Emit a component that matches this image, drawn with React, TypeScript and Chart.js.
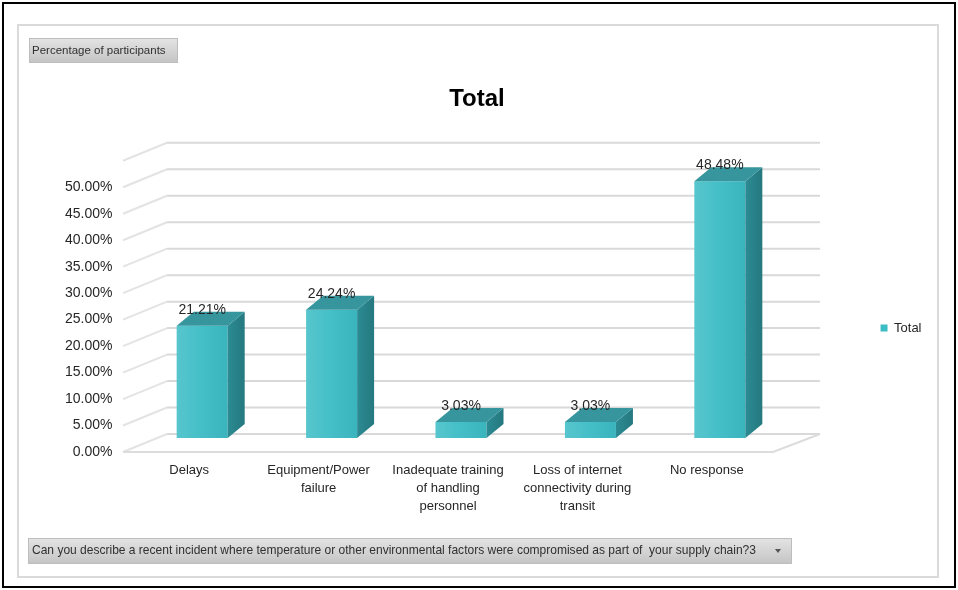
import React, { useEffect, useRef } from 'react';
import { Chart, registerables } from 'chart.js';

Chart.register(...registerables);

// ---- data ----
const categories: string[][] = [
  ['Delays'],
  ['Equipment/Power', 'failure'],
  ['Inadequate training', 'of handling', 'personnel'],
  ['Loss of internet', 'connectivity during', 'transit'],
  ['No response'],
];
const seriesName = 'Total';
const totalValues = [21.21, 24.24, 3.03, 3.03, 48.48];
const yAxisMax = 55;
const yAxisStep = 5;
const chartTitle = 'Total';
const fieldButtonLabel = 'Percentage of participants';
const filterLabel =
  'Can you describe a recent incident where temperature or other environmental factors were compromised as part of  your supply chain?3';

const FONT = '"Liberation Sans", Arial, sans-serif';

// 3D styling constants
const BAR_DX = 17;
const BAR_DY = -14;
const FRONT_X = -14.5; // left wall front edge relative to chart area left
const FRONT_Y = 14; // front plane offset relative to bar plane
const BACK_LEFT = 29.5; // back wall left relative to chart area left
const BACK_RIGHT = 35.5; // back wall right relative to chart area right
const BACK_Y = -4;
const FLOOR_FRONT_RIGHT = -11.5;

function grayBox(ctx: CanvasRenderingContext2D, x: number, y: number, w: number, h: number) {
  const g = ctx.createLinearGradient(0, y, 0, y + h);
  g.addColorStop(0, '#e4e4e4');
  g.addColorStop(1, '#c4c4c4');
  ctx.fillStyle = g;
  ctx.fillRect(x, y, w, h);
  ctx.strokeStyle = '#bdbdbd';
  ctx.lineWidth = 1;
  ctx.strokeRect(x + 0.5, y + 0.5, w - 1, h - 1);
}

const decorPlugin = {
  id: 'decor',
  beforeDraw(chart: any) {
    const ctx: CanvasRenderingContext2D = chart.ctx;
    ctx.save();
    ctx.fillStyle = '#ffffff';
    ctx.fillRect(0, 0, chart.width, chart.height);
    // inner frame
    ctx.strokeStyle = '#dadada';
    ctx.lineWidth = 2;
    ctx.strokeRect(18, 25, 920, 552);
    // outer black border
    ctx.strokeStyle = '#000000';
    ctx.lineWidth = 2;
    ctx.strokeRect(3, 3, 952, 584);

    // field button
    grayBox(ctx, 29, 38, 149, 25);
    ctx.fillStyle = '#303030';
    ctx.font = `11.5px ${FONT}`;
    ctx.textBaseline = 'middle';
    ctx.textAlign = 'left';
    ctx.fillText(fieldButtonLabel, 32, 51);

    // filter bar
    grayBox(ctx, 28, 538, 764, 26);
    ctx.font = `11px ${FONT}`;
    const w = ctx.measureText(filterLabel).width;
    const size = (11 * 725) / w;
    ctx.font = `${size.toFixed(2)}px ${FONT}`;
    ctx.fillStyle = '#303030';
    ctx.fillText(filterLabel, 32, 551);
    ctx.fillStyle = '#555555';
    ctx.beginPath();
    ctx.moveTo(775, 549);
    ctx.lineTo(781, 549);
    ctx.lineTo(778, 553);
    ctx.closePath();
    ctx.fill();
    ctx.restore();
  },
  beforeDatasetsDraw(chart: any) {
    const ctx: CanvasRenderingContext2D = chart.ctx;
    const ca = chart.chartArea;
    const ys = chart.scales.y;
    ctx.save();
    ctx.lineWidth = 2;
    const fl = ca.left + FRONT_X;
    const bl = ca.left + BACK_LEFT;
    const br = ca.right + BACK_RIGHT;
    ys.ticks.forEach((t: any) => {
      const y = ys.getPixelForValue(t.value);
      ctx.strokeStyle = '#d9d9d9';
      ctx.beginPath();
      ctx.moveTo(bl, y + BACK_Y);
      ctx.lineTo(br, y + BACK_Y);
      ctx.stroke();
      ctx.strokeStyle = '#e3e3e3';
      ctx.beginPath();
      ctx.moveTo(fl, y + FRONT_Y);
      ctx.lineTo(bl, y + BACK_Y);
      ctx.stroke();
    });
    const y0 = ys.getPixelForValue(0);
    ctx.strokeStyle = '#dcdcdc';
    ctx.beginPath();
    ctx.moveTo(fl, y0 + FRONT_Y);
    ctx.lineTo(ca.right + FLOOR_FRONT_RIGHT, y0 + FRONT_Y);
    ctx.lineTo(br, y0 + BACK_Y);
    ctx.stroke();
    ctx.restore();
  },
  afterDatasetsDraw(chart: any) {
    const ctx: CanvasRenderingContext2D = chart.ctx;
    const meta = chart.getDatasetMeta(0);
    const data = chart.data.datasets[0].data as number[];
    ctx.save();
    meta.data.forEach((bar: any, i: number) => {
      const { x, y, base, width } = bar.getProps(['x', 'y', 'base', 'width'], true);
      const left = x - width / 2;
      const right = x + width / 2;
      // front shading
      const fg = ctx.createLinearGradient(left, 0, right, 0);
      fg.addColorStop(0, 'rgba(255,255,255,0.14)');
      fg.addColorStop(0.5, 'rgba(255,255,255,0.04)');
      fg.addColorStop(1, 'rgba(0,0,0,0.04)');
      ctx.fillStyle = fg;
      ctx.fillRect(left, y, width, base - y);
      // side face
      const sg = ctx.createLinearGradient(right, 0, right + BAR_DX, 0);
      sg.addColorStop(0, '#2c8b93');
      sg.addColorStop(1, '#25787f');
      ctx.fillStyle = sg;
      ctx.beginPath();
      ctx.moveTo(right, y);
      ctx.lineTo(right + BAR_DX, y + BAR_DY);
      ctx.lineTo(right + BAR_DX, base + BAR_DY);
      ctx.lineTo(right, base);
      ctx.closePath();
      ctx.fill();
      // top face
      ctx.fillStyle = '#37959d';
      ctx.beginPath();
      ctx.moveTo(left, y);
      ctx.lineTo(left + BAR_DX, y + BAR_DY);
      ctx.lineTo(right + BAR_DX, y + BAR_DY);
      ctx.lineTo(right, y);
      ctx.closePath();
      ctx.fill();
      // value label
      ctx.fillStyle = '#262626';
      ctx.font = `14px ${FONT}`;
      ctx.textAlign = 'center';
      ctx.textBaseline = 'middle';
      ctx.fillText(`${data[i].toFixed(2)}%`, x, y - 16);
    });
    ctx.restore();
  },
};

export default function App() {
  const ref = useRef<HTMLCanvasElement>(null);
  useEffect(() => {
    document.body.style.margin = '0';
    Chart.defaults.font.family = FONT;
    const chart = new Chart(ref.current as HTMLCanvasElement, {
      type: 'bar',
      data: {
        labels: categories,
        datasets: [
          {
            label: seriesName,
            data: totalValues,
            backgroundColor: '#3cbcc5',
            borderWidth: 0,
            barPercentage: 0.394,
            categoryPercentage: 1,
          },
        ],
      },
      options: {
        responsive: false,
        animation: false,
        devicePixelRatio: 1,
        layout: { padding: { left: 22.5, right: 26.5, top: 76, bottom: 10 } },
        scales: {
          x: {
            grid: { display: false, drawTicks: false },
            border: { display: false },
            ticks: {
              autoSkip: false,
              maxRotation: 0,
              minRotation: 0,
              padding: 23,
              labelOffset: -13,
              color: '#262626',
              font: { size: 13, lineHeight: '18px' },
            },
            afterFit: (s: any) => {
              s.height = 142;
            },
          },
          y: {
            min: 0,
            max: yAxisMax,
            grid: { display: false, drawTicks: false },
            border: { display: false },
            ticks: {
              stepSize: yAxisStep,
              padding: 25,
              labelOffset: 14,
              color: '#262626',
              font: { size: 14 },
              callback: (v: any) => (Number(v) >= yAxisMax ? '' : `${Number(v).toFixed(2)}%`),
            },
            afterFit: (s: any) => {
              s.width = 115;
            },
          },
        },
        plugins: {
          title: {
            display: true,
            text: chartTitle,
            color: '#000000',
            font: { size: 24, weight: 'bold' },
            padding: { top: 9, bottom: 33 },
          },
          legend: {
            display: true,
            position: 'right',
            maxWidth: 147,
            labels: {
              boxWidth: 7,
              boxHeight: 7,
              padding: 96,
              color: '#262626',
              font: { size: 13 },
            },
          },
          tooltip: { enabled: false },
        },
      },
      plugins: [decorPlugin],
    } as any);
    return () => chart.destroy();
  }, []);
  return (
    <div style={{ width: 958, height: 590 }}>
      <canvas ref={ref} width={958} height={590} style={{ display: 'block' }} />
    </div>
  );
}
